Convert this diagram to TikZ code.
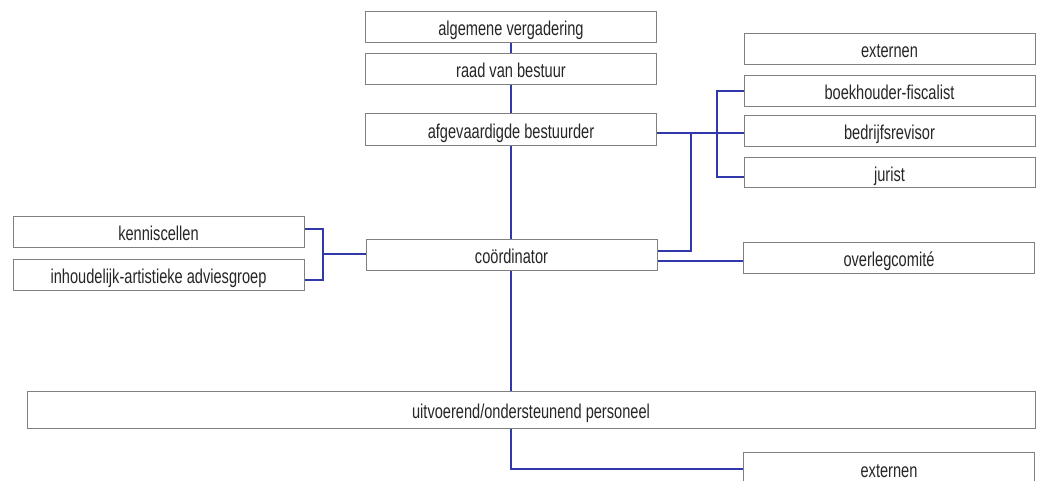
\documentclass[tikz,border=0pt]{standalone}
\usepackage{graphicx}
\usepackage{fontspec}
\setmainfont{Liberation Sans}
\definecolor{lnblue}{RGB}{48,56,170}
\definecolor{bxgray}{RGB}{128,128,128}
\newcommand{\nt}[1]{\scalebox{0.73}[1]{#1}}
\begin{document}
\begin{tikzpicture}[x=1pt,y=-1pt,
  box/.style={draw=bxgray,line width=1pt,fill=white,minimum width=291pt,minimum height=31pt,inner sep=0pt,text height=17pt,text depth=0pt,font=\fontsize{20}{22}\selectfont,text=black!85},
  conn/.style={draw=lnblue,line width=1.4pt}]
\clip (0,0) rectangle (1037,481);
\fill[white] (0,0) rectangle (1037,481);
% boxes
\node[box] (alg) at (511,27.5) {\nt{algemene vergadering}};
\node[box] (raad) at (511,69.5) {\nt{raad van bestuur}};
\node[box,minimum height=32pt] (afg) at (511,130) {\nt{afgevaardigde bestuurder}};
\node[box] (ext1) at (889.5,49.5) {\nt{externen}};
\node[box] (boek) at (889.5,91.5) {\nt{boekhouder-fiscalist}};
\node[box] (bedr) at (889.5,131.5) {\nt{bedrijfsrevisor}};
\node[box,minimum height=30pt] (jur) at (889.5,173) {\nt{jurist}};
\node[box] (kenn) at (158.5,232.5) {\nt{kenniscellen}};
\node[box] (inh) at (158.5,275.5) {\nt{inhoudelijk-artistieke adviesgroep}};
\node[box] (coord) at (511.5,255.5) {\nt{coördinator}};
\node[box] (over) at (889,258.5) {\nt{overlegcomité}};
\node[box,minimum width=1008pt,minimum height=37pt] (uitv) at (531,409.5) {\nt{uitvoerend/ondersteunend personeel}};
\node[box,minimum height=33pt] (ext2) at (889,468.5) {\nt{externen}};
% coordinates
\coordinate (ja) at (691,133);
\coordinate (jb) at (691,251);
\coordinate (jc) at (717,91);
\coordinate (jd) at (717,177);
\coordinate (je) at (323,229);
\coordinate (jf) at (323,280);
\coordinate (jg) at (323,254);
\coordinate (jh) at (511,469);
% connectors
\draw[conn] (alg.south) -- (raad.north);
\draw[conn] (raad.south) -- (afg.north);
\draw[conn] (afg.south) -- (coord.north-|afg.south);
\draw[conn] (coord.south-|alg.south) -- (uitv.north-|alg.south);
\draw[conn] (uitv.south-|alg.south) -- (jh) -- (ext2.west|-jh);
\draw[conn] (afg.east|-ja) -- (bedr.west|-ja);
\draw[conn] (ja) -- (jb) -- (coord.east|-jb);
\draw[conn] (boek.west|-jc) -- (jc) -- (jd) -- (jur.west|-jd);
\draw[conn] (coord.east|-0,261) -- (over.west|-0,261);
\draw[conn] (kenn.east|-je) -- (je) -- (jf) -- (inh.east|-jf);
\draw[conn] (jg) -- (coord.west|-jg);
\end{tikzpicture}
\end{document}
